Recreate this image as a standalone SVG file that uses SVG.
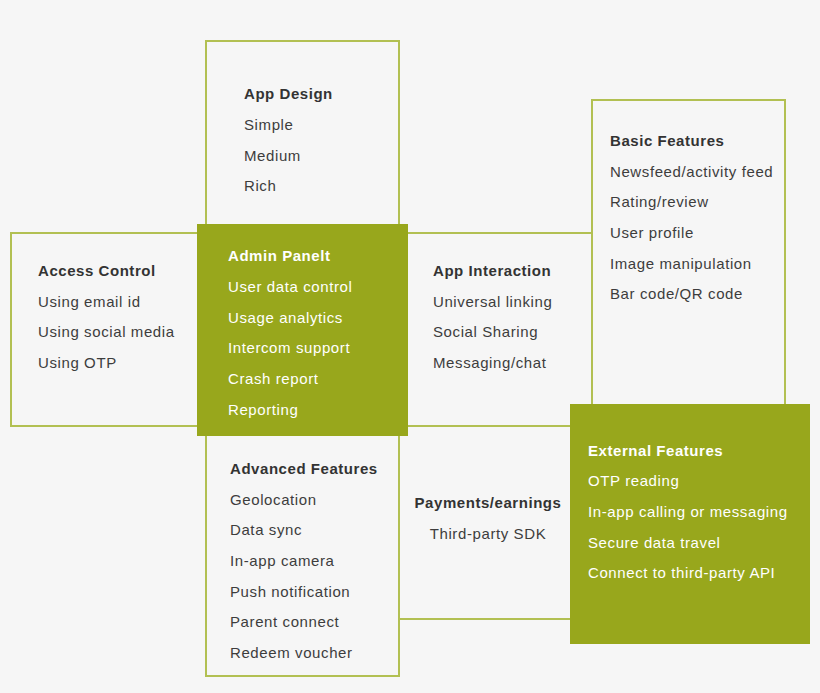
<svg xmlns="http://www.w3.org/2000/svg" width="820" height="693" viewBox="0 0 820 693">
<style>
  .bg{fill:#f6f6f6}
  .box{fill:none;stroke:#b2c052;stroke-width:2}
  .fill{fill:#98a71c}
  text{font-family:"Liberation Sans",Arial,sans-serif;font-size:15px;letter-spacing:0.6px;fill:#3d3d3d}
  .t{font-weight:bold;letter-spacing:0.55px;fill:#333}
  .w{fill:#ffffff}
  .c{text-anchor:middle}
</style>
<rect class="bg" x="0" y="0" width="820" height="693"/>
<g id="connectors">
  <path class="box" d="M408 233 H592 M408 426 H570"/>
  <path class="box" d="M399 619 H570"/>
</g>
<g id="app-design">
  <rect class="box" x="206" y="41" width="193" height="190"/>
  <text class="t" x="244" y="99">App Design</text>
  <text x="244" y="130">Simple</text>
  <text x="244" y="161">Medium</text>
  <text x="244" y="191">Rich</text>
</g>
<g id="access-control">
  <path class="box" d="M200 233 H11 V426 H200"/>
  <text class="t" x="38" y="276">Access Control</text>
  <text x="38" y="307">Using email id</text>
  <text x="38" y="337">Using social media</text>
  <text x="38" y="368">Using OTP</text>
</g>
<g id="basic-features">
  <rect class="box" x="592" y="100" width="193" height="310"/>
  <text class="t" x="610" y="146">Basic Features</text>
  <text x="610" y="177">Newsfeed/activity feed</text>
  <text x="610" y="207">Rating/review</text>
  <text x="610" y="238">User profile</text>
  <text x="610" y="269">Image manipulation</text>
  <text x="610" y="299">Bar code/QR code</text>
</g>
<g id="app-interaction">
  <text class="t" x="433" y="276">App Interaction</text>
  <text x="433" y="307">Universal linking</text>
  <text x="433" y="337">Social Sharing</text>
  <text x="433" y="368">Messaging/chat</text>
</g>
<g id="advanced-features">
  <rect class="box" x="206" y="430" width="193" height="246"/>
  <text class="t" x="230" y="474">Advanced Features</text>
  <text x="230" y="505">Geolocation</text>
  <text x="230" y="535">Data sync</text>
  <text x="230" y="566">In-app camera</text>
  <text x="230" y="597">Push notification</text>
  <text x="230" y="627">Parent connect</text>
  <text x="230" y="658">Redeem voucher</text>
</g>
<g id="payments">
  <text class="t c" x="488" y="508">Payments/earnings</text>
  <text class="c" x="488" y="539">Third-party SDK</text>
</g>
<g id="admin-panel">
  <rect class="fill" x="197" y="224" width="211" height="212"/>
  <text class="t w" x="228" y="261">Admin Panelt</text>
  <text class="w" x="228" y="292">User data control</text>
  <text class="w" x="228" y="323">Usage analytics</text>
  <text class="w" x="228" y="353">Intercom support</text>
  <text class="w" x="228" y="384">Crash report</text>
  <text class="w" x="228" y="415">Reporting</text>
</g>
<g id="external-features">
  <rect class="fill" x="570" y="404" width="240" height="240"/>
  <text class="t w" x="588" y="456">External Features</text>
  <text class="w" x="588" y="486">OTP reading</text>
  <text class="w" x="588" y="517">In-app calling or messaging</text>
  <text class="w" x="588" y="548">Secure data travel</text>
  <text class="w" x="588" y="578">Connect to third-party API</text>
</g>
</svg>
